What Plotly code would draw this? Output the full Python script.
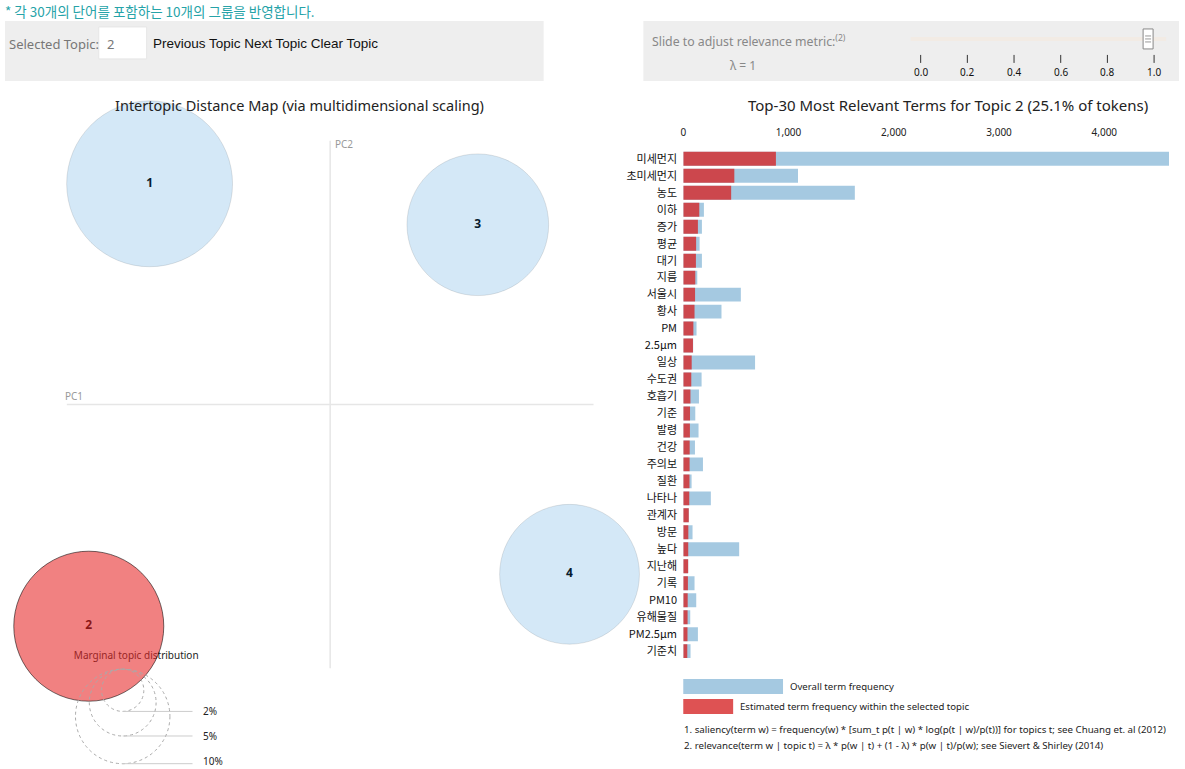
import plotly.graph_objects as go
import math

W, H = 1185, 769

# ---------------- data ----------------
topic_ids = ["1", "2", "3", "4"]
topic_pc1 = [-0.2057, -0.2750, 0.1682, 0.2727]
topic_pc2 = [0.2511, -0.2523, 0.2045, -0.1932]
topic_pct = [30.7, 25.1, 22.4, 21.8]
selected_topic = "2"

terms = ["미세먼지", "초미세먼지", "농도", "이하", "증가", "평균", "대기", "지름", "서울시", "황사",
         "PM", "2.5μm", "일상", "수도권", "호흡기", "기준", "발령", "건강", "주의보", "질환",
         "나타나", "관계자", "방문", "높다", "지난해", "기록", "PM10", "유해물질", "PM2.5μm", "기준치"]
overall_freq = [4615, 1090, 1630, 196, 177, 155, 177, 133, 547, 363,
                126, 94, 682, 174, 149, 114, 145, 111, 187, 79,
                262, 53, 88, 531, 47, 107, 123, 66, 139, 69]
topic_freq = [880, 485, 455, 152, 139, 122, 120, 114, 112, 107,
              96, 92, 80, 76, 68, 64, 63, 61, 60, 59,
              57, 52, 48, 47, 46, 44, 42, 41, 40, 38]

x_ticks = [0, 1000, 2000, 3000, 4000]
legend_pcts = [2, 5, 10]
slider_ticks = [0.0, 0.2, 0.4, 0.6, 0.8, 1.0]
lambda_value = 1.0

# ---------------- geometry helpers ----------------
XOFF = 2                     # renderer offset correction (px)
PX_PER_UNIT = 880.0          # mds plot scale (px per data unit)
R_PX = 14.97                 # circle radius px per sqrt(percent)
ORIGIN_PX = (330 - XOFF, 404)


def px(xp):
    return (xp - XOFF) / W


def py(yp):
    return 1 - yp / H


def dx(xp):
    return (xp - XOFF - ORIGIN_PX[0]) / PX_PER_UNIT


def dy(yp):
    return (ORIGIN_PX[1] - yp) / PX_PER_UNIT


FONT = "Noto Sans, Noto Sans CJK KR, sans-serif"
KFONT = "Noto Sans CJK KR, Noto Sans, sans-serif"


def note(text, x, y, size, color="#222", anchor="left", family=FONT, ref="paper"):
    if ref == "paper":
        xx, yy, xr, yr = px(x), py(y), "paper", "paper"
    else:
        xx, yy, xr, yr = dx(x), dy(y), "x", "y"
    return dict(text=text, x=xx, y=yy, xref=xr, yref=yr, xanchor=anchor, yanchor="middle",
                showarrow=False, borderpad=0, font=dict(family=family, size=size, color=color))


fig = go.Figure()

# ---------------- MDS panel ----------------
# labels first (drawn under semi-transparent circles)
fig.add_trace(go.Scatter(
    x=topic_pc1, y=topic_pc2, text=topic_ids, mode="text",
    textfont=dict(family="Noto Sans", size=12, color="black", weight="bold"),
    hoverinfo="skip", showlegend=False, xaxis="x", yaxis="y"))
fig.add_trace(go.Scatter(
    x=[dx(73)], y=[dy(656)], text=["Marginal topic distribution"], mode="text",
    textposition="middle right",
    textfont=dict(family=FONT, size=10, color="#222"),
    hoverinfo="skip", showlegend=False, xaxis="x", yaxis="y"))

fill = ["rgba(232,40,40,0.59)" if t == selected_topic else "rgba(40,140,215,0.2)" for t in topic_ids]
edge = ["rgba(0,0,0,0.55)" if t == selected_topic else "rgba(0,0,0,0.1)" for t in topic_ids]
fig.add_trace(go.Scatter(
    x=topic_pc1, y=topic_pc2, mode="markers",
    marker=dict(size=[2 * R_PX * math.sqrt(p) for p in topic_pct], sizemode="diameter",
                color=fill, opacity=1, line=dict(color=edge, width=1)),
    customdata=topic_pct, hovertemplate="Topic %{text}<br>%{customdata}%<extra></extra>",
    text=topic_ids, showlegend=False, xaxis="x", yaxis="y", cliponaxis=False))

shapes = []
annotations = []

# PC axes
shapes.append(dict(type="line", xref="x", yref="y", x0=-0.3, x1=0.3, y0=0, y1=0,
                   line=dict(color="#e6e6e6", width=1.5), layer="below"))
shapes.append(dict(type="line", xref="x", yref="y", x0=0, x1=0, y0=-0.3, y1=0.3,
                   line=dict(color="#e6e6e6", width=1.5), layer="below"))
annotations.append(note("PC1", 63, 396, 10, "#999", ref="data"))
annotations.append(note("PC2", 334, 143, 10, "#999", ref="data"))

# marginal distribution legend circles
leg_cx = dx(122)
leg_top = dy(669)
for p in legend_pcts:
    r = R_PX * math.sqrt(p) / PX_PER_UNIT
    shapes.append(dict(type="circle", xref="x", yref="y",
                       x0=leg_cx - r, x1=leg_cx + r, y0=leg_top - 2 * r, y1=leg_top,
                       line=dict(color="#aaaaaa", width=1, dash="dot"), layer="above"))
    shapes.append(dict(type="line", xref="x", yref="y", x0=leg_cx, x1=dx(192),
                       y0=leg_top - 2 * r, y1=leg_top - 2 * r,
                       line=dict(color="#cccccc", width=1), layer="above"))
    yl = leg_top - 2 * r
    annotations.append(dict(text=f"{p}%", x=dx(201), y=max(yl, dy(761)), xref="x", yref="y",
                            xanchor="left", yanchor="middle", showarrow=False, borderpad=0,
                            font=dict(family=FONT, size=10, color="#222")))

# ---------------- bar panel ----------------
fig.add_trace(go.Bar(
    y=terms, x=overall_freq, orientation="h", marker=dict(color="#1f77b4", opacity=0.4, line=dict(width=0)),
    name="Overall term frequency", showlegend=False, xaxis="x2", yaxis="y2", width=0.82))
fig.add_trace(go.Bar(
    y=terms, x=topic_freq, orientation="h", marker=dict(color="#d62728", opacity=0.8, line=dict(width=0)),
    name="Estimated term frequency within the selected topic", showlegend=False,
    xaxis="x2", yaxis="y2", width=0.82))

sel_idx = topic_ids.index(selected_topic)
annotations.append(note("Intertopic Distance Map (via multidimensional scaling)", 299, 104, 14.5,
                        anchor="center"))
annotations.append(note(f"Top-30 Most Relevant Terms for Topic {selected_topic} ({topic_pct[sel_idx]}% of tokens)",
                        949, 104, 15, anchor="center"))

# bar legend
shapes.append(dict(type="rect", xref="paper", yref="paper", x0=px(684), x1=px(784), y0=py(694), y1=py(679),
                   fillcolor="rgba(31,119,180,0.4)", line=dict(width=0)))
shapes.append(dict(type="rect", xref="paper", yref="paper", x0=px(684), x1=px(734), y0=py(714), y1=py(699),
                   fillcolor="rgba(214,39,40,0.8)", line=dict(width=0)))
annotations.append(note("Overall term frequency", 790, 686, 9.6))
annotations.append(note("Estimated term frequency within the selected topic", 740, 706, 9.6))
annotations.append(note("1. saliency(term w) = frequency(w) * [sum_t p(t | w) * log(p(t | w)/p(t))] for topics t; see Chuang et. al (2012)",
                        684, 729, 9.7))
annotations.append(note("2. relevance(term w | topic t) = λ * p(w | t) + (1 - λ) * p(w | t)/p(w); see Sievert & Shirley (2014)",
                        684, 745, 9.7))

# ---------------- top controls ----------------
annotations.append(note("* 각 30개의 단어를 포함하는 10개의 그룹을 반영합니다.", 3, 10, 13.5, "#26a3a8", family=KFONT))
shapes.append(dict(type="rect", xref="paper", yref="paper", x0=px(4), x1=px(544), y0=py(80), y1=py(20),
                   fillcolor="#eeeeee", line=dict(width=0), layer="below"))
shapes.append(dict(type="rect", xref="paper", yref="paper", x0=px(644), x1=px(1181), y0=py(80), y1=py(20),
                   fillcolor="#eeeeee", line=dict(width=0), layer="below"))
shapes.append(dict(type="rect", xref="paper", yref="paper", x0=px(98), x1=px(146), y0=py(58), y1=py(26),
                   fillcolor="white", line=dict(color="#e6e6e6", width=1)))
annotations.append(note("Selected Topic:", 7, 43, 13, "#777"))
annotations.append(note(selected_topic, 105, 43, 13, "#777"))
annotations.append(note("Previous Topic Next Topic Clear Topic", 151, 43, 13.5, "#111",
                        family="Liberation Sans, Arial"))
annotations.append(note("Slide to adjust relevance metric:<sup>(2)</sup>", 652, 40, 12.3, "#888"))
annotations.append(note(f"λ = {lambda_value:g}", 744, 65, 12, "#888", anchor="center"))

# slider
sl_x0, sl_x1 = 922, 1156
shapes.append(dict(type="line", xref="paper", yref="paper", x0=px(912), x1=px(1168), y0=py(38), y1=py(38),
                   line=dict(color="#f2ebe4", width=4)))
for v in slider_ticks:
    xp = sl_x0 + (sl_x1 - sl_x0) * v
    shapes.append(dict(type="line", xref="paper", yref="paper", x0=px(xp), x1=px(xp), y0=py(54), y1=py(62),
                       line=dict(color="#333", width=1)))
    annotations.append(note(f"{v:.1f}", xp, 71, 10, "#111", anchor="center"))
hx = sl_x0 + (sl_x1 - sl_x0) * lambda_value - 6
shapes.append(dict(type="rect", xref="paper", yref="paper", x0=px(hx - 5), x1=px(hx + 5), y0=py(48), y1=py(28),
                   fillcolor="white", line=dict(color="#888", width=1)))
for yy in (35, 38, 41):
    shapes.append(dict(type="line", xref="paper", yref="paper", x0=px(hx - 3), x1=px(hx + 3), y0=py(yy), y1=py(yy),
                       line=dict(color="#999", width=1)))

# ---------------- layout ----------------
row_top, row_h = 149.5, 17.0
fig.update_layout(
    width=W, height=H, autosize=False,
    margin=dict(l=0, r=0, t=0, b=0),
    paper_bgcolor="white", plot_bgcolor="rgba(0,0,0,0)",
    barmode="overlay", bargap=0.18,
    xaxis=dict(domain=[0, 600 / W], range=[dx(XOFF), dx(600 + XOFF)], visible=False, fixedrange=True),
    yaxis=dict(domain=[0, 1], range=[dy(H), dy(0)], visible=False, fixedrange=True),
    xaxis2=dict(domain=[px(684), px(1171)], range=[0, max(overall_freq)], anchor="y2", side="top",
                tickvals=x_ticks, tickformat=",", showgrid=False, zeroline=False, showline=False,
                ticks="outside", ticklen=9, tickcolor="rgba(0,0,0,0)",
                tickfont=dict(family=FONT, size=10, color="#222")),
    yaxis2=dict(domain=[py(row_top + row_h * len(terms)), py(row_top)], anchor="x2", type="category",
                categoryorder="array", categoryarray=terms, range=[len(terms) - 0.5, -0.5],
                showgrid=False, zeroline=False, showline=False, ticks="outside", ticklen=3,
                tickcolor="rgba(0,0,0,0)", tickfont=dict(family=KFONT, size=11, color="#111")),
    shapes=shapes, annotations=annotations,
)

fig.write_html("out.html")
